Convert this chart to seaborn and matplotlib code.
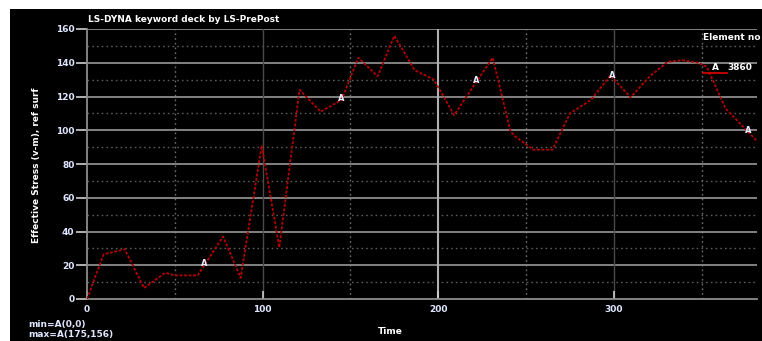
import numpy as np
import pandas as pd
import seaborn as sns
import matplotlib
matplotlib.use("Agg")
import matplotlib.pyplot as plt
from matplotlib.patches import Rectangle
from matplotlib.lines import Line2D

# Effective stress history of element 3860 (curve "A")
time = [0, 9.5, 21.5, 32.5, 44.5, 50, 63, 77.5, 87.5, 99.5, 109.5, 121, 133,
        145, 154.5, 165.5, 175, 186.5, 197.5, 209, 231, 241, 243, 254, 265,
        275, 287, 298, 309.5, 320.5, 330.5, 339, 348, 353, 363.5, 370, 383]
stress = [0, 26.5, 29.5, 6.5, 15.5, 14, 14, 37, 12.5, 91, 30.5, 124, 111,
          118, 143, 132, 156, 135.7, 130, 109, 143, 100, 97, 88.5, 88.5,
          110, 118, 132.5, 119.5, 132, 140.5, 141.5, 140, 137.5, 113, 106, 92]
label_times = [66.7, 144.7, 221.6, 299, 376.6]
x_ticks = [0, 100, 200, 300]
y_ticks = [0, 20, 40, 60, 80, 100, 120, 140, 160]
curve_id = "3860"

df = pd.DataFrame({"Time": time, "Stress": stress})

W, H = 762, 341
fig = plt.figure(figsize=(W / 100, H / 100), dpi=100, facecolor="white")
fig.patches.append(Rectangle((10 / W, 0), 1, 1 - 9 / H, transform=fig.transFigure,
                             facecolor="black", edgecolor="none", zorder=-10))

left, right, top, bottom = 87 / W, 757 / W, 1 - 29 / H, 1 - 299 / H
ax = fig.add_axes([left, bottom, right - left, top - bottom])
ax.set_facecolor("black")

tick_col = "#dfe6ff"
grid_col = "#8c8c8c"

# minor dotted grid
for v in range(10, 160, 20):
    ax.axhline(v, color="#5a5a5a", lw=1.0, ls=(0, (1.2, 2.2)), zorder=1)
for v in (50, 150, 250, 350):
    ax.axvline(v, color="#6e6e6e", lw=1.0, ls=(0, (1.2, 2.2)), zorder=1)
# major grid
for v in y_ticks[1:]:
    ax.axhline(v, color=grid_col, lw=1.3, zorder=1)
ax.axvline(100, color="#4a4a4a", lw=1.0, zorder=1)
ax.axvline(300, color="#4a4a4a", lw=1.0, zorder=1)
ax.axvline(200, color="#b0b0b0", lw=1.5, zorder=1)

sns.lineplot(data=df, x="Time", y="Stress", ax=ax, sort=False, estimator=None,
             color="#b50000", lw=1.3, zorder=3)
ax.lines[-1].set_dashes([1.6, 0.9])

# curve labels
for t in label_times:
    ax.text(t, np.interp(t, time, stress) + 1, "A", color="#e8eeff", fontsize=6,
            fontweight="bold", ha="center", va="center", zorder=4)

ax.set_xlim(0, 381.5)
ax.set_ylim(0, 160)
ax.set_xticks(x_ticks)
ax.set_yticks(y_ticks)
ax.tick_params(axis="y", colors=tick_col, direction="out", length=8, width=1.2,
               pad=1, labelsize=6.5)
ax.tick_params(axis="x", colors=tick_col, direction="in", length=6, width=1.2,
               pad=4, labelsize=6.5)
ax.tick_params(axis="both", color="#cfcfcf")
for lab in ax.get_xticklabels() + ax.get_yticklabels():
    lab.set_fontweight("bold")
for s in ("top", "right"):
    ax.spines[s].set_visible(False)
ax.spines["left"].set_color(grid_col)
ax.spines["left"].set_linewidth(1.3)
ax.spines["bottom"].set_color(grid_col)
ax.spines["bottom"].set_linewidth(1.3)
ax.set_xlabel("")
ax.set_ylabel("")

txt = dict(color="white", fontweight="bold", fontsize=6.5)
fig.text(88 / W, 1 - 20 / H, "LS-DYNA keyword deck by LS-PrePost", ha="left",
         va="center", **txt)
fig.text(37 / W, 1 - 165 / H, "Effective Stress (v-m), ref surf", rotation=90,
         ha="center", va="center", **txt)
fig.text(390 / W, 1 - 332 / H, "Time", ha="center", va="center", **txt)
fig.text(28 / W, 1 - 325 / H, "min=A(0,0)", ha="left", va="center",
         color=tick_col, fontweight="bold", fontsize=6.5)
fig.text(28 / W, 1 - 335 / H, "max=A(175,156)", ha="left", va="center",
         color=tick_col, fontweight="bold", fontsize=6.5)
fig.text(703 / W, 1 - 38 / H, "Element no", ha="left", va="center", **txt)

# legend entry for curve A
fig.lines.append(Line2D([703 / W, 727 / W], [1 - 73 / H, 1 - 73 / H],
                        transform=fig.transFigure, color="#d00000", lw=1.3))
fig.text(712 / W, 1 - 68 / H, "A", ha="left", va="center", **txt)
fig.text(727 / W, 1 - 68 / H, curve_id, ha="left", va="center", **txt)

fig.savefig("out.png", dpi=100, facecolor="white")
